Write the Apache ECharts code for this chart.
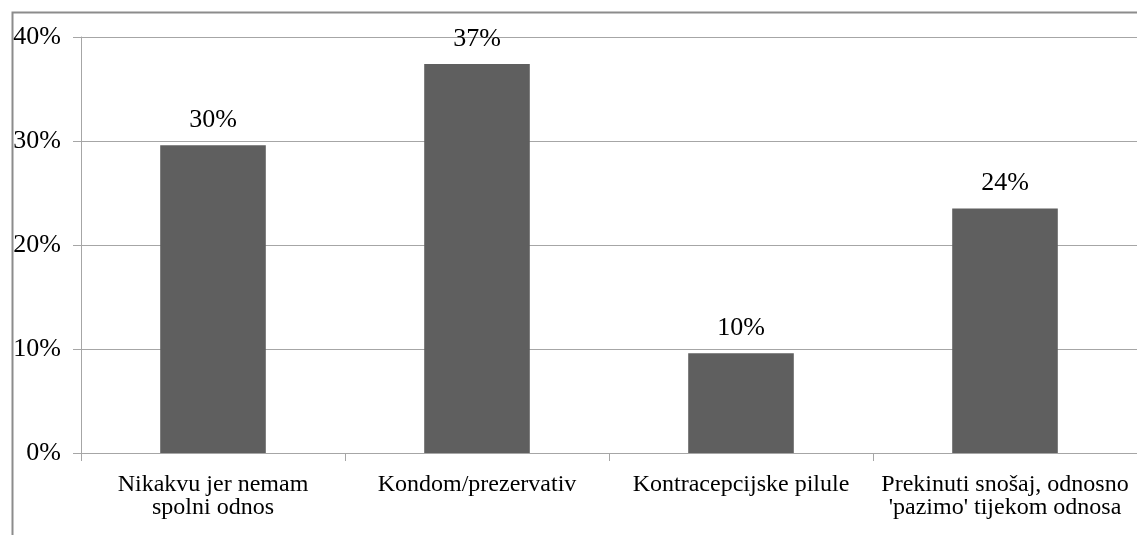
<!DOCTYPE html>
<html>
<head>
<meta charset="utf-8">
<script src="https://cdn.jsdelivr.net/npm/echarts@6/dist/echarts.min.js"></script>
<style>
html,body{margin:0;padding:0;background:#fff;}
#main{width:1137px;height:535px;}
</style>
</head>
<body>
<div id="main"></div>
<script>
var categories = ["Nikakvu jer nemam\nspolni odnos", "Kondom/prezervativ", "Kontracepcijske pilule", "Prekinuti snošaj, odnosno\n'pazimo' tijekom odnosa"];
var values = [29.6, 37.4, 9.6, 23.5];
var yTicks = [0, 10, 20, 30, 40];

var chart = echarts.init(document.getElementById('main'));
var font = '"Liberation Serif", "Times New Roman", serif';
chart.setOption({
  animation: false,
  backgroundColor: '#fff',
  graphic: [{
    type: 'rect', left: 10, top: 10,
    shape: { x: 0, y: 0, width: 1300, height: 700 },
    style: { fill: 'none', stroke: '#8c8c8c', lineWidth: 2 },
    silent: true
  }],
  grid: { left: 81, top: 37, right: 0, bottom: 82, containLabel: false },
  xAxis: {
    type: 'category',
    data: categories,
    axisLine: { lineStyle: { color: '#a6a6a6', width: 1 } },
    axisTick: { show: true, length: 8, inside: false, lineStyle: { color: '#a6a6a6' } },
    axisLabel: { color: '#000', fontFamily: font, fontSize: 24, lineHeight: 23, margin: 20, interval: 0 }
  },
  yAxis: {
    type: 'value',
    min: yTicks[0], max: yTicks[yTicks.length - 1], interval: 10,
    axisLine: { show: true, lineStyle: { color: '#a6a6a6', width: 1 } },
    axisTick: { show: true, length: 8, inside: false, lineStyle: { color: '#a6a6a6', width: 1 } },
    splitLine: { show: true, lineStyle: { color: '#a6a6a6', width: 1 } },
    axisLabel: { color: '#000', fontFamily: font, fontSize: 26, margin: 20, formatter: '{value}%' }
  },
  series: [{
    type: 'bar',
    data: values,
    barWidth: '40%',
    itemStyle: { color: '#5f5f5f' },
    label: {
      show: true, position: 'top', distance: 12,
      color: '#000', fontFamily: font, fontSize: 26,
      formatter: function (p) { return Math.round(p.value) + '%'; }
    }
  }]
});
</script>
</body>
</html>
